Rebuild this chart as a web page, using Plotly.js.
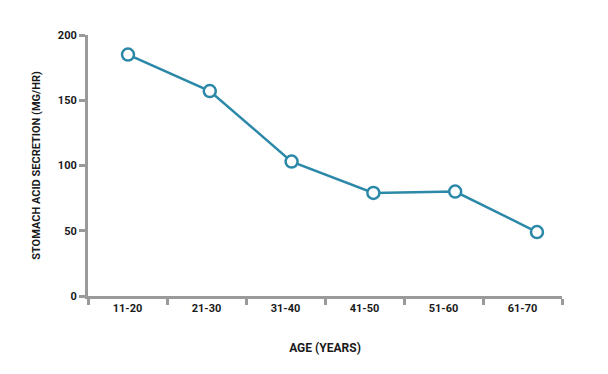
<!DOCTYPE html>
<html><head><meta charset="utf-8">
<script src="https://cdn.plot.ly/plotly-3.0.1.min.js"></script>
<style>html,body{margin:0;padding:0;background:#fff}#chart{width:608px;height:374px}</style>
</head><body><div id="chart"></div>
<script>
const ageGroups = ["11-20","21-30","31-40","41-50","51-60","61-70"];
const acidSecretion = [185, 157, 103, 79, 80, 49];
const yTicks = [0, 50, 100, 150, 200];

const idx = ageGroups.map((_, i) => i);
const bounds = ageGroups.map((_, i) => i - 0.5).concat([ageGroups.length - 0.5]);

const lineColor = "#2c88a8";
const axisColor = "#9a9a9a";
const fam = "Roboto, 'Open Sans', sans-serif";
const txt = "#1a1a1a";

Plotly.newPlot("chart", [
{
  // carries the category axis (labels and boundary ticks); draws nothing
  x: idx, y: acidSecretion, xaxis: "x", type: "scatter", mode: "markers",
  marker: {opacity: 0, size: 1}, hoverinfo: "skip"
},
{
  x: idx, y: acidSecretion, xaxis: "x2", type: "scatter", mode: "lines+markers",
  line: {color: lineColor, width: 2.5},
  marker: {size: 12, color: "#ffffff", line: {color: lineColor, width: 2.5}},
  cliponaxis: false, hoverinfo: "skip"
}], {
  width: 608, height: 374,
  margin: {l: 88, r: 46, t: 35, b: 78},
  paper_bgcolor: "#fff", plot_bgcolor: "#fff",
  showlegend: false,
  font: {family: fam, size: 11, color: txt},
  xaxis: {
    range: [-0.5, ageGroups.length - 0.5],
    tickvals: idx, ticktext: ageGroups,
    showgrid: false, zeroline: false,
    showline: true, linecolor: axisColor, linewidth: 3,
    ticks: "outside", ticklen: 0, tickwidth: 0, tickcolor: "rgba(0,0,0,0)",
    minor: {tickvals: bounds, ticks: "outside", ticklen: 6, tickwidth: 3, tickcolor: axisColor, showgrid: false},
    tickfont: {family: fam, size: 11, color: txt, weight: "bold"},
    title: {text: "<b>AGE (YEARS)</b>", standoff: 30, font: {family: fam, size: 12, color: txt}}
  },
  xaxis2: {
    overlaying: "x", visible: false,
    range: [-0.489, 5.306], showgrid: false, zeroline: false
  },
  yaxis: {
    range: [0, 200], tickvals: yTicks, ticktext: yTicks.map(String),
    showgrid: false, zeroline: false,
    showline: true, linecolor: axisColor, linewidth: 3,
    ticks: "outside", ticklen: 6, tickwidth: 3, tickcolor: axisColor,
    tickfont: {family: fam, size: 11, color: txt, weight: "bold"},
    title: {text: "<b>STOMACH ACID SECRETION (MG/HR)</b>", standoff: 16, font: {family: fam, size: 11, color: txt}}
  }
}, {displayModeBar: false, staticPlot: true});
</script></body></html>
